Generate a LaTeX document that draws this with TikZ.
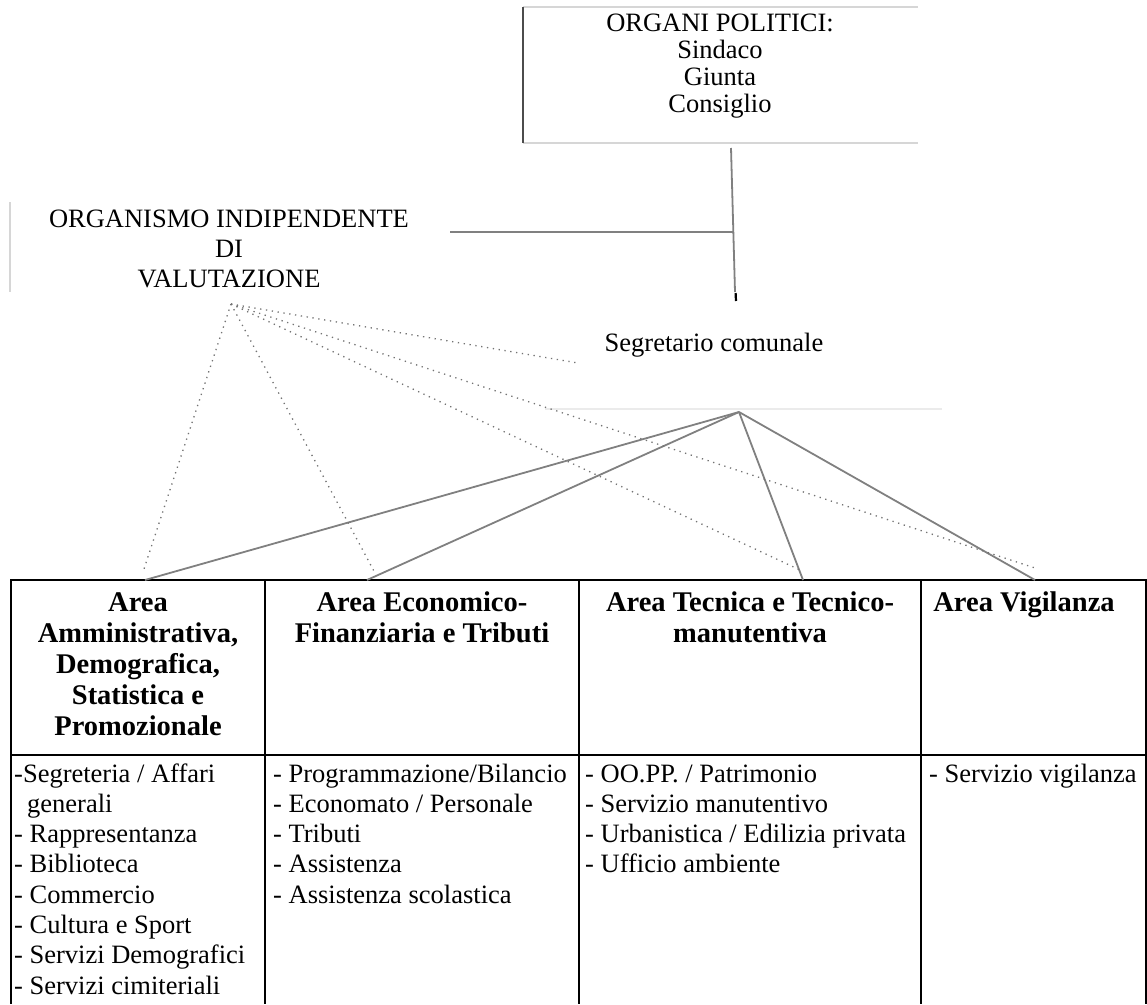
\documentclass[tikz,border=0pt]{standalone}
\usepackage{fontspec}
\setmainfont{Liberation Serif}
\newcommand{\cblock}[1]{\vtop{\halign{\hfil##\hfil\cr#1\crcr}}}
\newcommand{\lblock}[1]{\vtop{\halign{##\hfil\cr#1\crcr}}}
\definecolor{connc}{gray}{0.5}
\definecolor{lightc}{gray}{0.84}
\definecolor{vlightc}{gray}{0.92}
\definecolor{darkc}{gray}{0.3}
\definecolor{dotc}{gray}{0.45}
\begin{document}
\begin{tikzpicture}[x=1pt,y=-1pt,
  reg/.style={inner sep=0pt, font=\fontsize{26.5}{30.3}\selectfont},
  hdr/.style={inner sep=0pt, font=\fontsize{28.5}{31}\selectfont\bfseries},
  frameL/.style={draw=darkc, line width=2.6pt},
  frameT/.style={draw=lightc, line width=1.5pt},
  faint/.style={draw=vlightc, line width=1.5pt},
  conn/.style={draw=connc, line width=1.8pt},
  dotl/.style={draw=dotc, line width=1.3pt, dash pattern=on 1.3pt off 4.6pt},
  tline/.style={draw=black, line width=1.8pt},
  tickl/.style={draw=black, line width=2.2pt}]
\useasboundingbox (0,0) rectangle (1147,1004);

% ---- top box frame
\coordinate (ptl) at (523,7);
\coordinate (pbl) at (523,143);
\coordinate (ptr) at (918,7);
\coordinate (pbr) at (918,143);
\draw[frameT] (ptl) -- (ptr);
\draw[frameT] (pbl) -- (pbr);
\draw[frameL] (ptl) -- (pbl);
\node[reg, font=\fontsize{26.5}{27}\selectfont, anchor=base] (pol) at (720,31)
  {\cblock{ORGANI POLITICI:\cr Sindaco\cr Giunta\cr Consiglio}};

% ---- OIV
\coordinate (oivt) at (10,202);
\coordinate (oivb) at (10,292);
\draw[frameT] (oivt) -- (oivb);
\node[reg, font=\fontsize{26.5}{30}\selectfont, anchor=base] (oiv) at (229,227)
  {\cblock{ORGANISMO INDIPENDENTE\cr DI\cr VALUTAZIONE}};

% ---- Segretario
\node[reg, anchor=base] (seg) at (714,351) {Segretario comunale};

% ---- connectors top
\coordinate (ptop) at (731,148);
\coordinate (pseg) at (735,292);
\coordinate (junc) at (733.4,232);
\coordinate (oivR) at (450,232);
\coordinate (tk1) at (735.6,293);
\coordinate (tk2) at (736,301);
\draw[conn] (ptop) -- (pseg);
\draw[conn] (oivR) -- (junc);
\draw[tickl] (tk1) -- (tk2);

% ---- faint line
\coordinate (fl1) at (545,409);
\coordinate (fl2) at (942,409);
\draw[faint] (fl1) -- (fl2);

% ---- table
\coordinate (tL) at (11,580);
\coordinate (tR) at (1146,580);
\draw[tline] (11,580) -- (1146,580);
\draw[tline] (11,755) -- (1146,755);
\draw[tline] (11,579) -- (11,1004);
\draw[tline] (265,580) -- (265,1004);
\draw[tline] (579,580) -- (579,1004);
\draw[tline] (921,580) -- (921,1004);
\draw[draw=black, line width=1.2pt] (1146,579) -- (1146,1004);

\node[hdr, anchor=base] (h1) at (138,611)
  {\cblock{Area\cr Amministrativa,\cr Demografica,\cr Statistica e\cr Promozionale}};
\node[hdr, anchor=base] (h2) at (422,611)
  {\cblock{Area Economico-\cr Finanziaria e Tributi}};
\node[hdr, anchor=base] (h3) at (750,611)
  {\cblock{Area Tecnica e Tecnico-\cr manutentiva}};
\node[hdr, anchor=base] (h4) at (1024,611)
  {\cblock{Area Vigilanza}};

\node[reg, anchor=base west] (l1) at (14,782)
  {\lblock{-Segreteria / Affari\cr \hspace*{13pt}generali\cr - Rappresentanza\cr - Biblioteca\cr - Commercio\cr - Cultura e Sport\cr - Servizi Demografici\cr - Servizi cimiteriali}};
\node[reg, anchor=base west] (l2) at (273,782)
  {\lblock{- Programmazione/Bilancio\cr - Economato / Personale\cr - Tributi\cr - Assistenza\cr - Assistenza scolastica}};
\node[reg, anchor=base west] (l3) at (585,782)
  {\lblock{- OO.PP. / Patrimonio\cr - Servizio manutentivo\cr - Urbanistica / Edilizia privata\cr - Ufficio ambiente}};
\node[reg, anchor=base west] (l4) at (929,782)
  {\lblock{- Servizio vigilanza}};

% ---- solid lines from Segretario apex
\coordinate (apex) at (739,412);
\coordinate (a1) at (145,580);
\coordinate (a2) at (367,580);
\coordinate (a3) at (803,580);
\coordinate (a4) at (1035,580);
\draw[conn] (apex) -- (a1);
\draw[conn] (apex) -- (a2);
\draw[conn] (apex) -- (a3);
\draw[conn] (apex) -- (a4);

% ---- dotted lines from OIV
\coordinate (oivpt) at (231,304);
\coordinate (d1) at (143,572);
\coordinate (d2) at (375,573);
\coordinate (d3) at (578,363);
\coordinate (d4) at (800,570);
\coordinate (d5) at (1035,568);
\draw[dotl] (oivpt) -- (d1);
\draw[dotl] (oivpt) -- (d2);
\draw[dotl] (oivpt) -- (d3);
\draw[dotl] (oivpt) -- (d4);
\draw[dotl] (oivpt) -- (d5);
\end{tikzpicture}
\end{document}
